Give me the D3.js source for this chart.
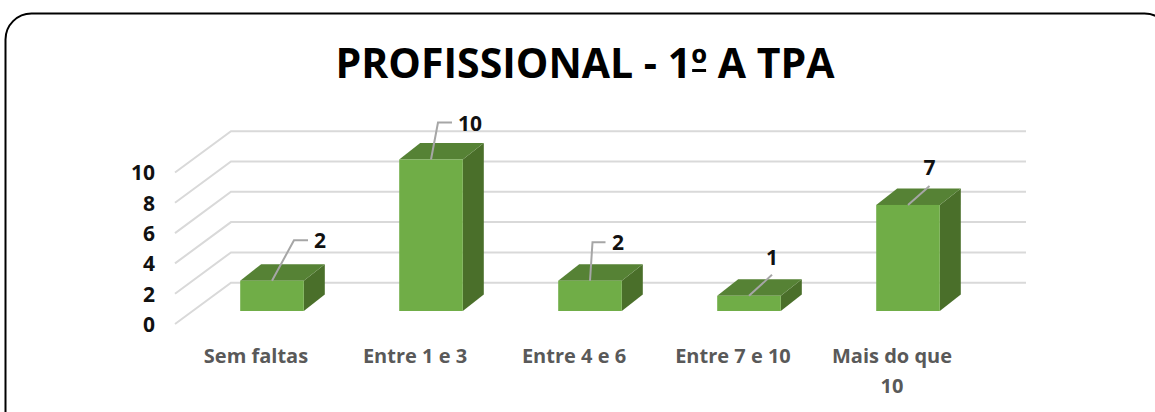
<!DOCTYPE html>
<html>
<head>
<meta charset="utf-8">
<script src="https://cdn.jsdelivr.net/npm/d3@7"></script>
<style>
  html, body { margin: 0; padding: 0; background: #fff; overflow: hidden; }
  svg { display: block; }
  text { font-family: "Open Sans", sans-serif; font-weight: 700; }
</style>
</head>
<body>
<script>
// values
var categories = ["Sem faltas", "Entre 1 e 3", "Entre 4 e 6", "Entre 7 e 10", "Mais do que 10"];
var values = [2, 10, 2, 1, 7];
var ticks = [0, 2, 4, 6, 8, 10];
var title = "PROFISSIONAL - 1º A TPA";

var width = 1155, height = 412;

var svg = d3.select("body").append("svg")
    .attr("width", width)
    .attr("height", height);

// outer frame runs off the right and bottom of the picture
svg.append("rect")
    .attr("x", 5.5).attr("y", 13.5)
    .attr("width", 1165).attr("height", 430)
    .attr("rx", 26).attr("ry", 26)
    .attr("fill", "#fff")
    .attr("stroke", "#000")
    .attr("stroke-width", 2);

var titleText = svg.append("text")
    .attr("x", 585).attr("y", 78)
    .attr("text-anchor", "middle")
    .attr("font-size", 41)
    .attr("fill", "#000")
    .text(title);

// the ordinal sign is underlined in the original font
var ord = titleText.node().getExtentOfChar(title.indexOf("º"));
svg.append("rect")
    .attr("x", ord.x + 1)
    .attr("y", 69)
    .attr("width", ord.width - 2)
    .attr("height", 3)
    .attr("fill", "#000");

var x = d3.scaleBand().domain(categories).range([192.5, 987.5]).paddingInner(0.6).paddingOuter(0.3);
var y = d3.scaleLinear().domain([0, 10]).range([311, 159.5]);

// fake 3d: offsets from the bar plane
var depthX = 21, depthY = -16.5;
var wallX = 231, wallDY = -28.3, wallRight = 1026;
var floorX = 175, floorDY = 13;

var grid = svg.append("g");
ticks.forEach(function(t) {
  grid.append("path")
      .attr("fill", "none")
      .attr("stroke", "#d9d9d9")
      .attr("stroke-width", 2)
      .attr("d", d3.line()([
        [floorX, y(t) + floorDY],
        [wallX, y(t) + wallDY],
        [wallRight, y(t) + wallDY]
      ]));
});

// y axis labels sit on the front edge of the floor
var axis = svg.append("g")
    .attr("transform", "translate(155," + floorDY + ")")
    .call(d3.axisLeft(y).tickValues(ticks).tickSize(0).tickPadding(0));
axis.select(".domain").remove();
axis.selectAll("text")
    .attr("font-size", 21)
    .attr("fill", "#111")
    .attr("dy", "0.35em")
    .style("font-family", '"Open Sans", sans-serif');

var bars = svg.append("g").selectAll("g")
    .data(categories)
    .enter().append("g");

function barTop(i) { return y(values[i]); }

// right side
bars.append("path")
    .attr("fill", "#4a6f2a")
    .attr("d", function(d, i) {
      var r = x(d) + x.bandwidth();
      return d3.line()([[r, barTop(i)], [r + depthX, barTop(i) + depthY], [r + depthX, y(0) + depthY], [r, y(0)]]) + "Z";
    });

// top
bars.append("path")
    .attr("fill", "#568235")
    .attr("d", function(d, i) {
      var l = x(d), r = l + x.bandwidth();
      return d3.line()([[l, barTop(i)], [l + depthX, barTop(i) + depthY], [r + depthX, barTop(i) + depthY], [r, barTop(i)]]) + "Z";
    });

// front
bars.append("rect")
    .attr("fill", "#70ad47")
    .attr("x", function(d) { return x(d); })
    .attr("y", function(d, i) { return barTop(i); })
    .attr("width", x.bandwidth())
    .attr("height", function(d, i) { return y(0) - barTop(i); });

// leader lines and value labels: how far each label was dragged from its bar
var leaderOffsets = [
  {dx: 22, dy: -40.5, run: 14, lx: 48, ly: -40},
  {dx: 7, dy: -37, run: 14, lx: 39, ly: -36},
  {dx: 2.5, dy: -38.5, run: 13, lx: 28, ly: -38},
  {dx: 23, dy: -21, run: 0, lx: 23, ly: -38},
  {dx: 21.5, dy: -19, run: 0, lx: 21.5, ly: -37}
];

bars.append("path")
    .attr("fill", "none")
    .attr("stroke", "#a6a6a6")
    .attr("stroke-width", 2)
    .attr("d", function(d, i) {
      var cx = x(d) + x.bandwidth() / 2, o = leaderOffsets[i];
      return d3.line()([
        [cx, barTop(i)],
        [cx + o.dx, barTop(i) + o.dy],
        [cx + o.dx + o.run, barTop(i) + o.dy]
      ]);
    });

bars.append("text")
    .attr("x", function(d, i) { return x(d) + x.bandwidth() / 2 + leaderOffsets[i].lx; })
    .attr("y", function(d, i) { return barTop(i) + leaderOffsets[i].ly; })
    .attr("dy", "0.35em")
    .attr("text-anchor", "middle")
    .attr("font-size", 21)
    .attr("fill", "#111")
    .text(function(d, i) { return values[i]; });

// category labels, the last one wraps
var labelShift = -16;
bars.append("text")
    .attr("text-anchor", "middle")
    .attr("font-size", 20)
    .attr("fill", "#595959")
    .each(function(d) {
      var lines = d == "Mais do que 10" ? ["Mais do que", "10"] : [d];
      var t = d3.select(this);
      lines.forEach(function(line, k) {
        t.append("tspan")
            .attr("x", x(d) + x.bandwidth() / 2 + labelShift)
            .attr("y", 363 + k * 30)
            .text(line);
      });
    });
</script>
</body>
</html>
